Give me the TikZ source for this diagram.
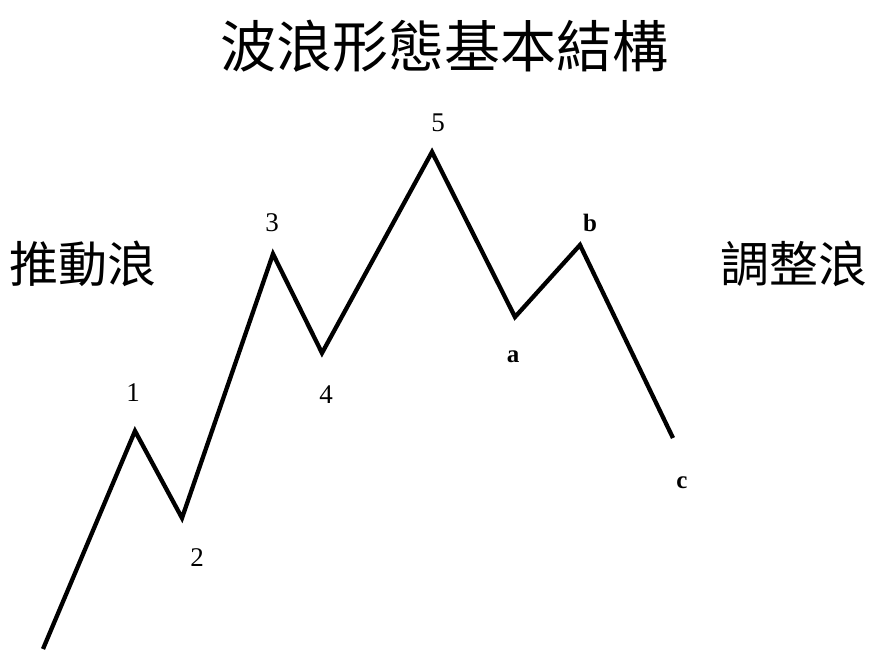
\documentclass[tikz,border=0pt]{standalone}
\usepackage{fontspec}
\setmainfont{Liberation Serif}
\newfontfamily\cjk{Noto Sans CJK TC}
\begin{document}
\begin{tikzpicture}[x=1pt,y=-1pt,
  wave/.style={line width=4.3pt,line join=miter,black},
  numlbl/.style={inner sep=0pt,font=\fontsize{27}{30}\selectfont},
  letlbl/.style={inner sep=0pt,font=\fontsize{25}{28}\selectfont\bfseries},
  titlelbl/.style={inner sep=0pt,font=\cjk\fontsize{56}{60}\selectfont},
  sidelbl/.style={inner sep=0pt,font=\cjk\fontsize{49}{54}\selectfont}]
\useasboundingbox[fill=white] (0,0) rectangle (881,655);
% vertices
\coordinate (s) at (43,649);
\coordinate (p1) at (135,431);
\coordinate (p2) at (182,518);
\coordinate (p3) at (273,254);
\coordinate (p4) at (322,353);
\coordinate (p5) at (432,152);
\coordinate (pa) at (515,317);
\coordinate (pb) at (580,245);
\coordinate (pc) at (673,438);
\draw[wave] (s) -- (p1) -- (p2) -- (p3) -- (p4) -- (p5) -- (pa) -- (pb) -- (pc);
% labels
\node[titlelbl] (title) at (444,46) {波浪形態基本結構};
\node[sidelbl] (impulse) at (83,264) {推動浪};
\node[sidelbl] (correct) at (794,264) {調整浪};
\node[numlbl] (l1) at (133,393) {1};
\node[numlbl] (l2) at (197,558) {2};
\node[numlbl] (l3) at (272,223) {3};
\node[numlbl] (l4) at (326,395) {4};
\node[numlbl] (l5) at (438,123) {5};
\node[letlbl] (la) at (513,357) {a};
\node[letlbl] (lb) at (590,223) {b};
\node[letlbl] (lc) at (682,483) {c};
\end{tikzpicture}
\end{document}
